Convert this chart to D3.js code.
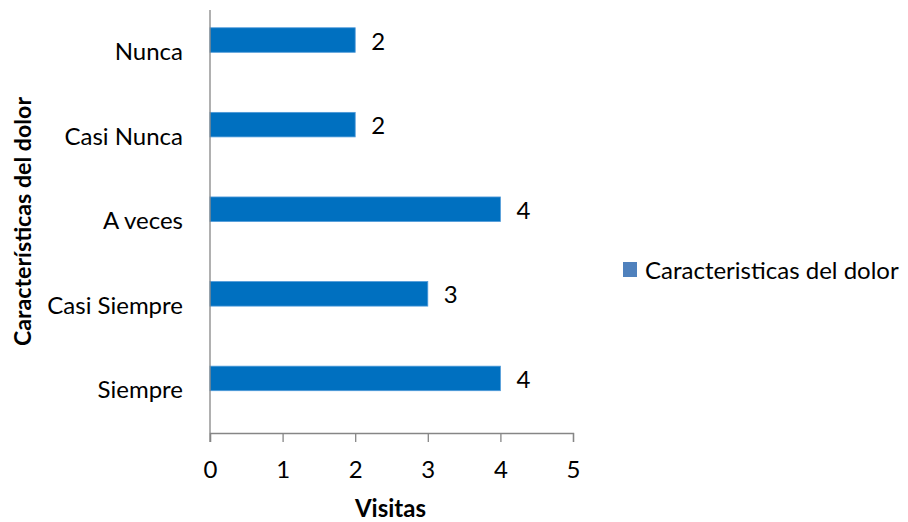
<!DOCTYPE html>
<html>
<head>
<meta charset="utf-8">
<script src="https://cdn.jsdelivr.net/npm/d3@7"></script>
<style>
  html, body { margin: 0; padding: 0; background: #fff; }
  svg { display: block; font-family: Lato, "Open Sans", sans-serif; }
</style>
</head>
<body>
<svg id="chart" width="908" height="522"></svg>
<script>
// Categories (top to bottom) and their counts
const categories = ["Nunca", "Casi Nunca", "A veces", "Casi Siempre", "Siempre"];
const values = [2, 2, 4, 3, 4];
const seriesName = "Caracteristicas del dolor";
const xTicks = [0, 1, 2, 3, 4, 5];
const xTitle = "Visitas";
const yTitle = "Características del dolor";

(function () {
const svg = d3.select("#chart");
const plotLeft = 210, plotRight = 573, plotTop = 10, plotBottom = 433;
const fs = 24;

const x = d3.scaleLinear().domain([0, 5]).range([plotLeft, plotRight]);
const y = d3.scaleBand().domain(categories).range([plotTop, plotBottom])
  .paddingInner(0.42).paddingOuter(0.21);

const axisColor = "#868686";

// bars sit in the upper half of each category group
const data = categories.map((c, i) => ({ c, v: values[i] }));
svg.append("g").selectAll("rect").data(data).join("rect")
  .attr("x", x(0))
  .attr("y", d => y(d.c))
  .attr("width", d => x(d.v) - x(0))
  .attr("height", y.bandwidth() / 2)
  .attr("fill", "#0070C0")
  .attr("stroke", "#4F9AD9")
  .attr("stroke-width", 0.8);

// value labels
svg.append("g").selectAll("text").data(data).join("text")
  .attr("x", d => x(d.v) + 16)
  .attr("y", d => y(d.c) + y.bandwidth() / 4 + 9.5)
  .attr("font-size", fs)
  .attr("fill", "#000")
  .text(d => d.v);

// x axis
const xAxis = svg.append("g").attr("transform", `translate(0,${plotBottom})`)
  .call(d3.axisBottom(x).tickValues(xTicks).tickSize(9).tickFormat(d3.format("d")));
xAxis.select(".domain").attr("stroke", axisColor).attr("stroke-width", 1.3);
xAxis.selectAll(".tick line").attr("stroke", axisColor).attr("stroke-width", 1.3);
xAxis.selectAll("text")
  .attr("y", 45).attr("dy", null)
  .attr("font-size", fs).attr("fill", "#000").attr("font-family", "Lato, sans-serif");

// y axis line (no tick marks)
svg.append("line")
  .attr("x1", plotLeft).attr("x2", plotLeft)
  .attr("y1", plotTop).attr("y2", plotBottom + 9)
  .attr("stroke", axisColor).attr("stroke-width", 1.3);

// category labels at group centres
svg.append("g").selectAll("text").data(categories).join("text")
  .attr("x", 183)
  .attr("y", d => y(d) + y.bandwidth() / 2 + 7.6)
  .attr("text-anchor", "end")
  .attr("font-size", fs)
  .attr("fill", "#000")
  .text(d => d);

// axis titles
svg.append("text")
  .attr("x", (plotLeft + plotRight) / 2 - 1).attr("y", 516.5)
  .attr("text-anchor", "middle")
  .attr("font-size", fs).attr("font-weight", "bold")
  .text(xTitle);

svg.append("text")
  .attr("transform", `translate(31,${(plotTop + plotBottom) / 2}) rotate(-90)`)
  .attr("text-anchor", "middle")
  .attr("font-size", 23.2).attr("font-weight", "bold")
  .text(yTitle);

// legend
const lg = svg.append("g").attr("transform", "translate(623,262)");
lg.append("rect").attr("width", 14).attr("height", 15).attr("fill", "#4F81BD");
lg.append("text").attr("x", 22).attr("y", 16.5)
  .attr("font-size", fs).attr("fill", "#000").text(seriesName);
})();
</script>
</body>
</html>
